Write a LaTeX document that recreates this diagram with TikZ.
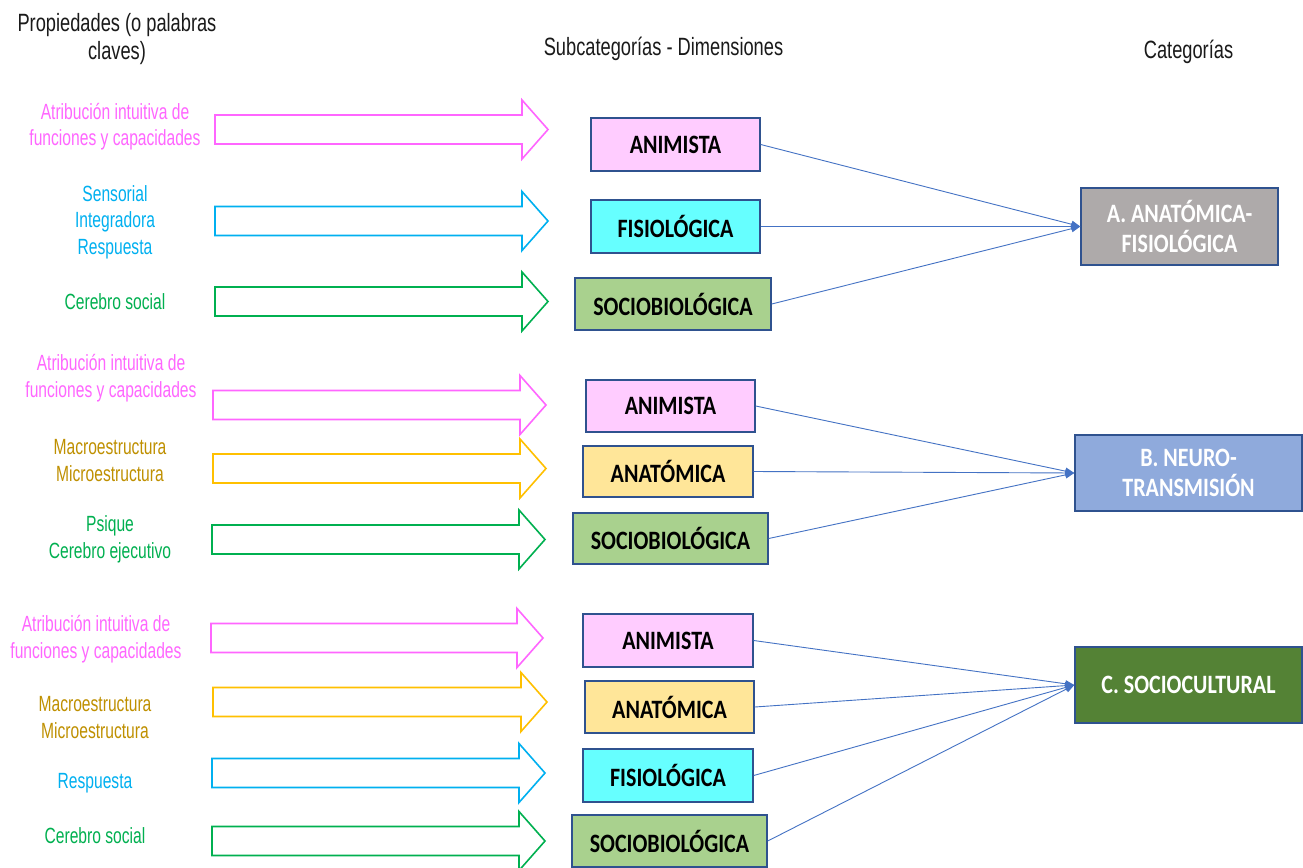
\documentclass[tikz,border=0pt]{standalone}
\usepackage{fontspec}
\setmainfont{Liberation Sans}
\newfontfamily\headfont[FakeStretch=0.73]{Liberation Sans}
\newfontfamily\narrowfont[FakeStretch=0.71]{Liberation Sans}
\newfontfamily\calfont[FakeStretch=0.83]{Carlito}
\usetikzlibrary{arrows.meta}

% palette
\definecolor{kpink}{HTML}{FF66FF}
\definecolor{kcyan}{HTML}{00B0F0}
\definecolor{kgreen}{HTML}{00B050}
\definecolor{kyellow}{HTML}{FFC000}
\definecolor{kgold}{HTML}{BF9000}
\definecolor{fillanim}{HTML}{FFCCFF}
\definecolor{fillfisio}{HTML}{66FFFF}
\definecolor{fillsocio}{HTML}{A9D18E}
\definecolor{fillanat}{HTML}{FFE699}
\definecolor{catA}{HTML}{AEAAAA}
\definecolor{catB}{HTML}{8FAADC}
\definecolor{catC}{HTML}{548235}
\definecolor{boxline}{HTML}{2F528F}
\definecolor{connline}{HTML}{4472C4}
\definecolor{headtext}{HTML}{1A1A1A}

% outlined block arrow: colour, tail x, tip x, centre y
\newcommand{\blockarrow}[4]{%
  \draw[blockarr, draw=#1]
    (#2,#4-14.5) -- (#3-26,#4-14.5) -- (#3-26,#4-29.5) -- (#3,#4)
    -- (#3-26,#4+29.5) -- (#3-26,#4+14.5) -- (#2,#4+14.5) -- cycle;}

\begin{document}
\begin{tikzpicture}[x=1pt,y=-1pt,
  header/.style={font=\headfont\fontsize{25}{28.5}\selectfont, text=headtext, align=center, inner sep=0pt},
  keyword/.style={font=\narrowfont\fontsize{22}{26.5}\selectfont, align=center, inner sep=0pt},
  blockarr/.style={line width=1.6pt, fill=white, line join=miter},
  subbox/.style={draw=boxline, line width=1.4pt, font=\calfont\bfseries\fontsize{26.5}{30}\selectfont,
    text=black, inner sep=0pt, minimum height=52pt},
  catbox/.style={draw=boxline, line width=1.4pt, font=\calfont\bfseries\fontsize{26.5}{30}\selectfont,
    text=white, align=center, inner sep=0pt},
  conn/.style={draw=connline, line width=0.9pt, -{Triangle[length=9pt,width=7pt]}}
]
\useasboundingbox (0,0) rectangle (1303,867);
\fill[white] (0,0) rectangle (1303,867);

% column headings
\node[header] (h1) at (117,39) {Propiedades (o palabras\\claves)};
\node[header] (h2) at (663.5,49) {Subcategorías - Dimensiones};
\node[header] (h3) at (1188.5,52) {Categorías};

% keywords, first group
\node[keyword, text=kpink]  (k11) at (115,126.5) {Atribución intuitiva de\\funciones y capacidades};
\node[keyword, text=kcyan]  (k12) at (115,222) {Sensorial\\Integradora\\Respuesta};
\node[keyword, text=kgreen] (k13) at (115,302) {Cerebro social};
% keywords, second group
\node[keyword, text=kpink]  (k21) at (111,378) {Atribución intuitiva de\\funciones y capacidades};
\node[keyword, text=kgold]  (k22) at (110,460.5) {Macroestructura\\Microestructura};
\node[keyword, text=kgreen] (k23) at (110,539.5) {Psique\\Cerebro ejecutivo};
% keywords, third group
\node[keyword, text=kpink]  (k31) at (96,639) {Atribución intuitiva de\\funciones y capacidades};
\node[keyword, text=kgold]  (k32) at (95,717.5) {Macroestructura\\Microestructura};
\node[keyword, text=kcyan]  (k33) at (95,783) {Respuesta};
\node[keyword, text=kgreen] (k34) at (95,836) {Cerebro social};

% block arrows
\blockarrow{kpink}{215}{548}{129.5}
\blockarrow{kcyan}{215}{548}{221}
\blockarrow{kgreen}{215}{548}{301.5}
\blockarrow{kpink}{213}{546}{405}
\blockarrow{kyellow}{213}{546}{468.5}
\blockarrow{kgreen}{212}{545}{539.5}
\blockarrow{kpink}{211}{543}{638}
\blockarrow{kyellow}{213}{547}{702}
\blockarrow{kcyan}{212}{545}{773}
\blockarrow{kgreen}{212}{545}{841}

% subcategory boxes
\node[subbox, fill=fillanim,  minimum width=169pt, minimum height=53pt] (an1) at (675.5,144.5) {ANIMISTA};
\node[subbox, fill=fillfisio, minimum width=169pt, minimum height=53pt] (fi1) at (675.5,226.5) {FISIOLÓGICA};
\node[subbox, fill=fillsocio, minimum width=196pt] (so1) at (673,304) {SOCIOBIOLÓGICA};

\node[subbox, fill=fillanim,  minimum width=169pt] (an2) at (670.5,406) {ANIMISTA};
\node[subbox, fill=fillanat,  minimum width=170pt, minimum height=51pt] (at2) at (668,471.5) {ANATÓMICA};
\node[subbox, fill=fillsocio, minimum width=195pt, minimum height=51pt] (so2) at (670.5,538.5) {SOCIOBIOLÓGICA};

\node[subbox, fill=fillanim,  minimum width=170pt, minimum height=53pt] (an3) at (668,640.5) {ANIMISTA};
\node[subbox, fill=fillanat,  minimum width=169pt] (at3) at (669.5,707) {ANATÓMICA};
\node[subbox, fill=fillfisio, minimum width=170pt, minimum height=53pt] (fi3) at (668,775.5) {FISIOLÓGICA};
\node[subbox, fill=fillsocio, minimum width=195pt] (so3) at (669.5,841) {SOCIOBIOLÓGICA};

% category boxes
\node[catbox, fill=catA, minimum width=197pt, minimum height=77pt] (A) at (1179.5,226.5) {A. ANATÓMICA-\\FISIOLÓGICA};
\node[catbox, fill=catB, minimum width=227pt, minimum height=76pt] (B) at (1188.5,473) {B. NEURO-\\TRANSMISIÓN};
\node[catbox, fill=catC, minimum width=227pt, minimum height=76pt] (C) at (1188.5,685) {C. SOCIOCULTURAL};

% connectors
\draw[conn] (an1.east) -- (A.west);
\draw[conn] (fi1.east) -- (A.west);
\draw[conn] (so1.east) -- (A.west);
\draw[conn] (an2.east) -- (B.west);
\draw[conn] (at2.east) -- (B.west);
\draw[conn] (so2.east) -- (B.west);
\draw[conn] (an3.east) -- (C.west);
\draw[conn] (at3.east) -- (C.west);
\draw[conn] (fi3.east) -- (C.west);
\draw[conn] (so3.east) -- (C.west);
\end{tikzpicture}
\end{document}
